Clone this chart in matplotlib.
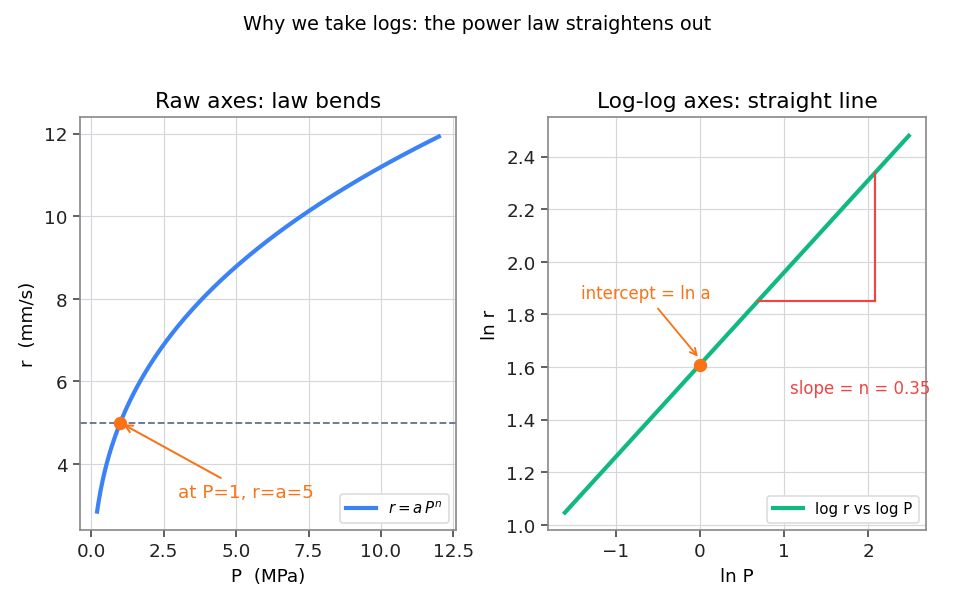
import numpy as np
import matplotlib
matplotlib.use("Agg")
import matplotlib.pyplot as plt

# Power-law parameters
a_coef = 5.0
n_exp = 0.35
P_min, P_max = 0.2, 12.0
P_ref = 1.0            # annotated reference point
tri_P = [2.0, 8.0]     # slope triangle endpoints (in P)

P = np.linspace(P_min, P_max, 300)
r = a_coef * P ** n_exp
lnP = np.log(P)
lnr = np.log(r)

blue = "#3b82f6"
green = "#10b981"
orange = "#f97316"
red = "#ef4444"
grid_c = "#d4d8dd"
spine_c = "#888888"

plt.rcParams.update({
    "font.family": "DejaVu Sans",
    "font.size": 10,
    "axes.edgecolor": spine_c,
    "axes.linewidth": 1.0,
    "xtick.color": "#333333",
    "ytick.color": "#333333",
    "xtick.labelcolor": "#222222",
    "ytick.labelcolor": "#222222",
})

fig = plt.figure(figsize=(7.95, 5.04), dpi=120)
ax1 = fig.add_axes([80/954, 1-531/605, 376/954, 413/605])
ax2 = fig.add_axes([548/954, 1-531/605, 378/954, 413/605])

for ax in (ax1, ax2):
    ax.grid(True, color=grid_c, linewidth=0.7)
    ax.set_axisbelow(True)
    ax.tick_params(direction="out", length=4, width=1, color="#444444")

# Left panel
ax1.plot(P, r, color=blue, lw=2.5, label=r"$r = a\,P^{n}$")
ax1.axhline(a_coef, color="#64748b", ls="--", lw=1.1)
ax1.plot([P_ref], [a_coef * P_ref ** n_exp], "o", color=orange, ms=7, zorder=5)
ax1.annotate("at P=1, r=a=5", xy=(P_ref, a_coef), xytext=(3.0, 3.2),
             color=orange, fontsize=11,
             arrowprops=dict(arrowstyle="->", color=orange, lw=1.2))
ax1.set_xlim(-0.39, 12.59)
ax1.set_ylim(2.4, 12.4)
ax1.set_xticks([0, 2.5, 5, 7.5, 10, 12.5])
ax1.set_xlabel("P  (MPa)", fontsize=11)
ax1.set_ylabel("r  (mm/s)", fontsize=11)
ax1.set_title("Raw axes: law bends", fontsize=13)
ax1.tick_params(labelsize=11)
ax1.legend(loc="lower right", fontsize=9, framealpha=1, edgecolor="#dddddd")

# Right panel
ax2.plot(lnP, lnr, color=green, lw=2.5, label="log r vs log P")
ax2.plot([0], [np.log(a_coef)], "o", color=orange, ms=7, zorder=5)
x0, x1 = np.log(tri_P[0]), np.log(tri_P[1])
y0 = np.log(a_coef) + n_exp * x0
y1 = np.log(a_coef) + n_exp * x1
ax2.plot([x0, x1], [y0, y0], color=red, lw=1.3)
ax2.plot([x1, x1], [y0, y1], color=red, lw=1.3)
ax2.text(1.07, 1.50, "slope = n = 0.35", color=red, fontsize=10)
ax2.annotate("intercept = ln a", xy=(0, np.log(a_coef) + 0.02), xytext=(-1.42, 1.86),
             color=orange, fontsize=10,
             arrowprops=dict(arrowstyle="->", color=orange, lw=1.1))
ax2.set_xlim(-1.81, 2.69)
ax2.set_ylim(0.98, 2.55)
ax2.set_xticks([-1, 0, 1, 2])
ax2.set_yticks([1.0, 1.2, 1.4, 1.6, 1.8, 2.0, 2.2, 2.4])
ax2.set_xlabel("ln P", fontsize=11)
ax2.set_ylabel("ln r", fontsize=11)
ax2.set_title("Log-log axes: straight line", fontsize=13)
ax2.tick_params(labelsize=11)
ax2.legend(loc="lower right", fontsize=9, framealpha=1, edgecolor="#dddddd")

fig.suptitle("Why we take logs: the power law straightens out", fontsize=11.5, y=0.975)
fig.savefig("out.png", dpi=120)
